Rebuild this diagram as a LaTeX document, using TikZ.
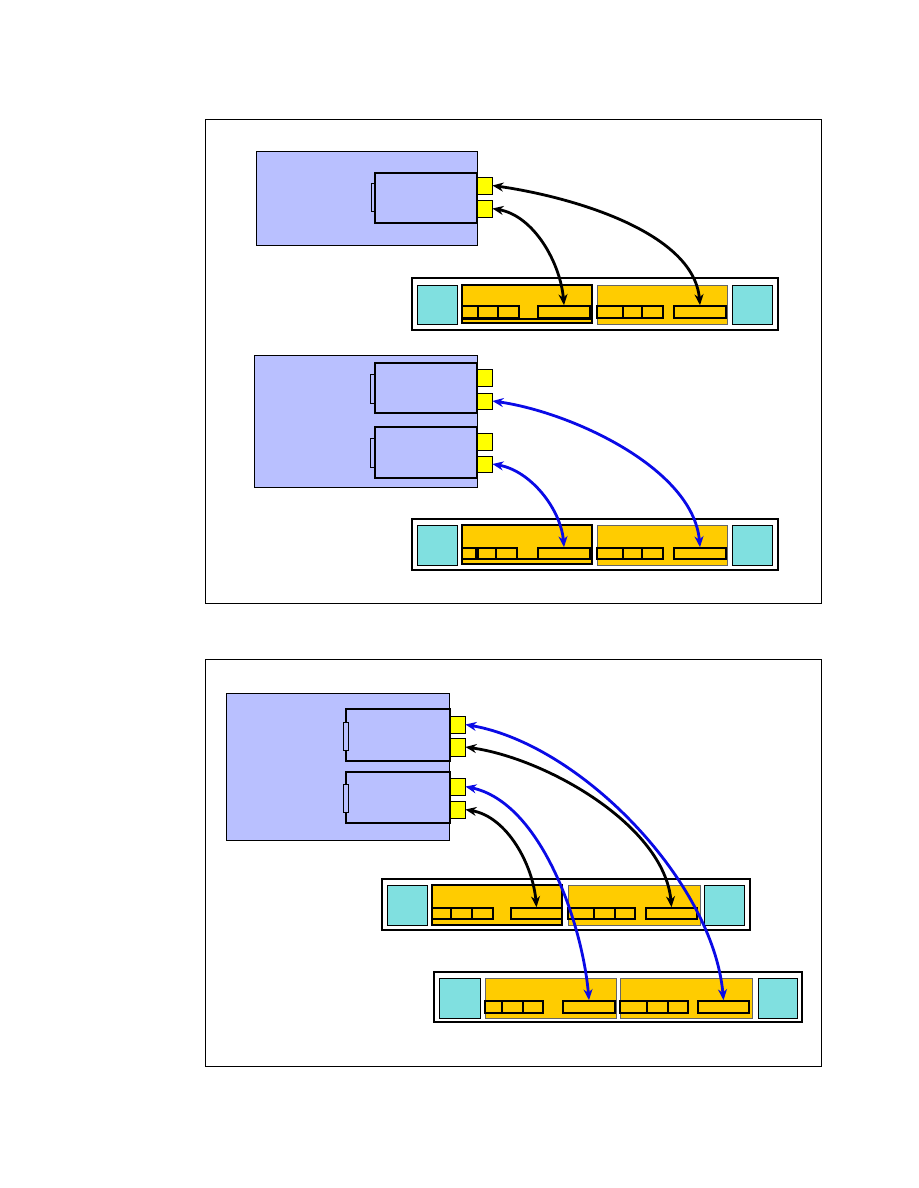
\documentclass[tikz,border=0pt]{standalone}
\usetikzlibrary{fit,arrows.meta}
\definecolor{srv}{RGB}{185,192,255}
\definecolor{tealc}{RGB}{128,224,224}
\definecolor{ctl}{RGB}{255,204,0}
\definecolor{portc}{RGB}{255,255,0}
\definecolor{blu}{RGB}{10,10,230}
\newcommand\R[6]{\node[#1,inner sep=0pt,fit={(#3,#4)(#5,#6)}] (#2) {};}
\tikzset{
 framebox/.style={draw=black,line width=0.8pt},
 server/.style={draw=black,fill=srv,line width=0.8pt},
 card/.style={draw=black,fill=srv,line width=2pt},
 tabbox/.style={draw=black,fill=srv,line width=0.8pt},
 port/.style={draw=black,fill=portc,line width=0.8pt},
 encl/.style={draw=black,fill=white,line width=1.6pt},
 tealbox/.style={draw=black,fill=tealc,line width=0.8pt},
 ctrla/.style={draw=black,fill=ctl,line width=1.6pt},
 ctrlb/.style={draw=black!60,fill=ctl,line width=0.4pt},
 slot/.style={draw=black,line width=1.6pt},
 conn/.style={line width=2.8pt,{Stealth[length=11pt,width=9pt]}-{Stealth[length=11pt,width=9pt]}},
}
\begin{document}
\begin{tikzpicture}[x=1pt,y=-1pt]
\useasboundingbox (0,0) rectangle (918,1188);
% frames
\R{framebox}{f1}{205}{119}{821}{603}
\R{framebox}{f2}{205}{659}{821}{1066}

% ===== Frame 1, server A
\R{server}{sa}{256}{151}{477}{245}
\R{tabbox}{sat}{371}{183}{375}{211}
\R{card}{sac}{375}{173}{477}{223}
\R{port}{sap1}{477}{177}{492}{194}
\R{port}{sap2}{477}{200}{492}{217}

% enclosure 1
\R{encl}{e1}{412}{278}{778}{330}
\R{tealbox}{e1l}{417}{285}{457}{324}
\R{tealbox}{e1r}{732}{285}{772}{324}
\R{ctrla}{e1a}{462}{285}{592}{323}
\draw[line width=1.2pt] (462,319) -- (592,319);
\R{slot}{e1a1}{462}{306}{478}{318}
\R{slot}{e1a2}{478}{306}{498}{318}
\R{slot}{e1a3}{498}{306}{519}{318}
\R{slot}{e1ar}{538}{306}{590}{318}
\R{ctrlb}{e1b}{597}{285}{727}{324}
\R{slot}{e1b1}{597}{306}{623}{318}
\R{slot}{e1b2}{623}{306}{642}{318}
\R{slot}{e1b3}{642}{306}{663}{318}
\R{slot}{e1br}{674}{306}{726}{318}

% ===== Frame 1, server B
\R{server}{sb}{254}{355}{477}{487}
\R{tabbox}{sbt1}{370}{374}{375}{403}
\R{card}{sbc1}{375}{363}{477}{413}
\R{tabbox}{sbt2}{370}{438}{375}{467}
\R{card}{sbc2}{375}{427}{477}{478}
\R{port}{sbp1}{477}{369}{492}{386}
\R{port}{sbp2}{477}{393}{492}{409}
\R{port}{sbp3}{477}{433}{492}{450}
\R{port}{sbp4}{477}{456}{492}{472}

% enclosure 2
\R{encl}{e2}{412}{519}{778}{570}
\R{tealbox}{e2l}{417}{525}{457}{565}
\R{tealbox}{e2r}{732}{525}{772}{565}
\R{ctrla}{e2a}{462}{525}{592}{564}
\draw[line width=1.2pt] (462,559) -- (592,559);
\R{slot}{e2a1}{462}{548}{476}{559}
\R{slot}{e2a2}{478}{548}{496}{559}
\R{slot}{e2a3}{496}{548}{517}{559}
\R{slot}{e2ar}{538}{548}{590}{559}
\R{ctrlb}{e2b}{597}{525}{727}{565}
\R{slot}{e2b1}{597}{548}{623}{559}
\R{slot}{e2b2}{623}{548}{642}{559}
\R{slot}{e2b3}{642}{548}{663}{559}
\R{slot}{e2br}{674}{548}{726}{559}

% ===== Frame 2, server C
\R{server}{sc}{226}{693}{449}{840}
\R{card}{scc1}{346}{709}{450}{761}
\R{card}{scc2}{346}{772}{450}{823}
\R{tabbox}{sct1}{343}{722}{348}{750}
\R{tabbox}{sct2}{343}{784}{348}{812}
\R{port}{scp1}{450}{716}{465}{733}
\R{port}{scp2}{450}{738}{465}{756}
\R{port}{scp3}{450}{778}{465}{795}
\R{port}{scp4}{450}{801}{465}{818}

% enclosure 3
\R{encl}{e3}{382}{879}{750}{930}
\R{tealbox}{e3l}{387}{885}{427}{925}
\R{tealbox}{e3r}{704}{885}{744}{925}
\R{ctrla}{e3a}{432}{885}{562}{925}
\R{slot}{e3a1}{432}{908}{451}{919}
\R{slot}{e3a2}{451}{908}{472}{919}
\R{slot}{e3a3}{472}{908}{493}{919}
\R{slot}{e3ar}{511}{908}{562}{919}
\R{ctrlb}{e3b}{568}{885}{700}{925}
\R{slot}{e3b1}{568}{908}{594}{919}
\R{slot}{e3b2}{594}{908}{615}{919}
\R{slot}{e3b3}{615}{908}{635}{919}
\R{slot}{e3br}{646}{908}{697}{919}

% enclosure 4
\R{encl}{e4}{434}{972}{802}{1022}
\R{tealbox}{e4l}{439}{978}{480}{1018}
\R{tealbox}{e4r}{758}{978}{797}{1018}
\R{ctrlb}{e4a}{485}{978}{616}{1018}
\R{slot}{e4a1}{485}{1001}{502}{1013}
\R{slot}{e4a2}{502}{1001}{523}{1013}
\R{slot}{e4a3}{523}{1001}{543}{1013}
\R{slot}{e4ar}{563}{1001}{615}{1013}
\R{ctrlb}{e4b}{620}{978}{752}{1018}
\R{slot}{e4b1}{620}{1001}{647}{1013}
\R{slot}{e4b2}{647}{1001}{668}{1013}
\R{slot}{e4b3}{668}{1001}{688}{1013}
\R{slot}{e4br}{698}{1001}{749}{1013}

% ===== connectors
\draw[conn] (sap1.east) to[out=-8,in=95,looseness=0.8] (e1br.north);
\draw[conn] (sap2.east) to[out=-10,in=95,looseness=0.9] (e1ar.north);
\draw[conn,blu] (sbp2.east) to[out=-8,in=95,looseness=0.8] (e2br.north);
\draw[conn,blu] (sbp4.east) to[out=-10,in=95,looseness=0.9] (e2ar.north);

\draw[conn,blu] (scp1.east) to[out=-10,in=95,looseness=0.8] (e4br.north);
\draw[conn] (scp2.east) to[out=-8,in=95,looseness=0.8] (e3br.north);
\draw[conn,blu] (scp3.east) to[out=-12,in=95,looseness=0.8] (e4ar.north);
\draw[conn] (scp4.east) to[out=-10,in=95,looseness=0.9] (e3ar.north);
\end{tikzpicture}
\end{document}
